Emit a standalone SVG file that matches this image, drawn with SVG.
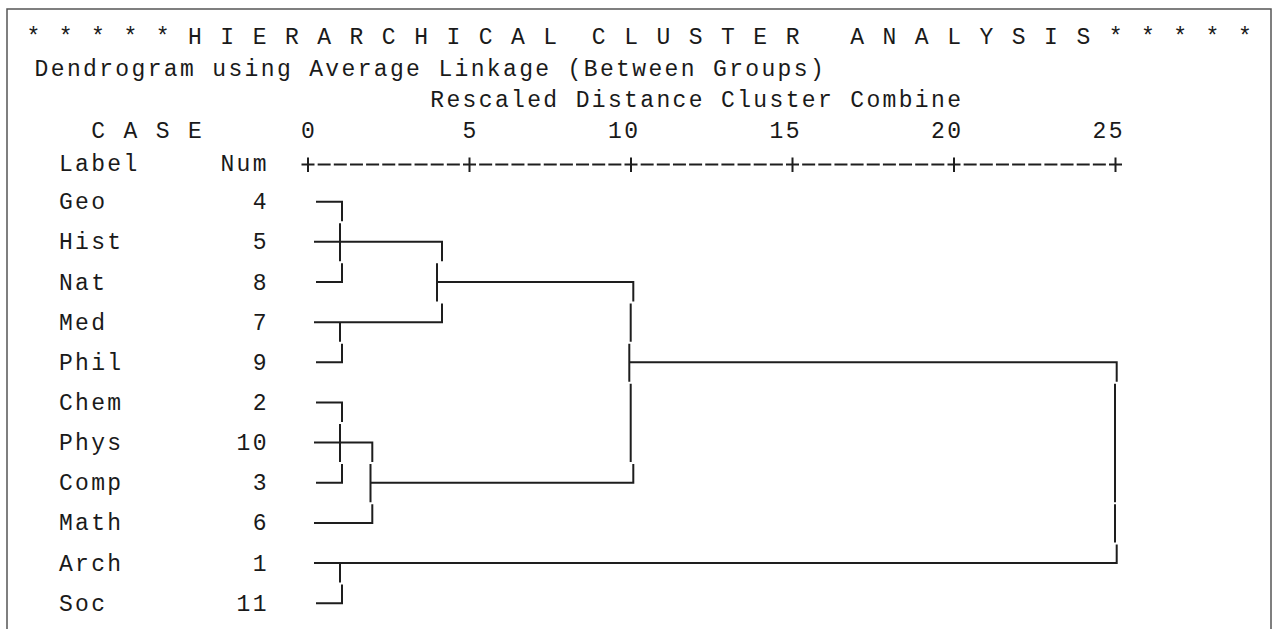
<svg xmlns="http://www.w3.org/2000/svg" width="1272" height="629" viewBox="0 0 1272 629">
<style>
text{font-family:"Liberation Mono","DejaVu Sans Mono",monospace;font-size:23px;fill:#1a1a1a;letter-spacing:2.35px;white-space:pre}
.ln{fill:none;stroke:#1e1e1e;stroke-width:2;stroke-linecap:butt;stroke-linejoin:miter}
.frame{fill:none;stroke:#555;stroke-width:1.5}
</style>
<rect width="1272" height="629" fill="#fff"/>
<path class="frame" d="M7,640 V9 H1271 V640"/>
<g id="header">
<text x="26.5" y="44" xml:space="preserve">* * * * * H I E R A R C H I C A L  C L U S T E R   A N A L Y S I S * * * * *</text>
<text x="34.6" y="76" xml:space="preserve">Dendrogram using Average Linkage (Between Groups)</text>
<text x="430.3" y="107" xml:space="preserve">Rescaled Distance Cluster Combine</text>
<text x="91.2" y="138" xml:space="preserve">C A S E</text>
<text x="301.1" y="138">0</text>
<text x="462.6" y="138">5</text>
<text x="608" y="138">10</text>
<text x="769.5" y="138">15</text>
<text x="931" y="138">20</text>
<text x="1092.5" y="138">25</text>
<text x="58.9" y="171">Label</text>
<text x="220.4" y="171">Num</text>
</g>
<g id="axis">
<path class="ln" d="M301.5,164.5 H1122.6" stroke-dasharray="13 3.15"/>
<path class="ln" d="M308,157.5 V172 M469.5,157.5 V172 M631,157.5 V172 M792.5,157.5 V172 M954,157.5 V172 M1115.5,157.5 V172"/>
</g>
<g id="case-geo"><text x="58.9" y="209.2">Geo</text><text x="252.7" y="209.2">4</text></g>
<g id="case-hist"><text x="58.9" y="249.4">Hist</text><text x="252.7" y="249.4">5</text></g>
<g id="case-nat"><text x="58.9" y="289.5">Nat</text><text x="252.7" y="289.5">8</text></g>
<g id="case-med"><text x="58.9" y="329.7">Med</text><text x="252.7" y="329.7">7</text></g>
<g id="case-phil"><text x="58.9" y="369.8">Phil</text><text x="252.7" y="369.8">9</text></g>
<g id="case-chem"><text x="58.9" y="410">Chem</text><text x="252.7" y="410">2</text></g>
<g id="case-phys"><text x="58.9" y="450.1">Phys</text><text x="236.5" y="450.1">10</text></g>
<g id="case-comp"><text x="58.9" y="490.3">Comp</text><text x="252.7" y="490.3">3</text></g>
<g id="case-math"><text x="58.9" y="530.4">Math</text><text x="252.7" y="530.4">6</text></g>
<g id="case-arch"><text x="58.9" y="570.6">Arch</text><text x="252.7" y="570.6">1</text></g>
<g id="case-soc"><text x="58.9" y="610.7">Soc</text><text x="236.5" y="610.7">11</text></g>
<g id="connectors">
<path class="ln" d="M316,201.7 H342 V221.2 M340,223.2 V261.35 M342,263.35 V282 H316"/>
<path class="ln" d="M314,241.85 H442 V261.35"/>
<path class="ln" d="M314,322.15 H442 V303.5 M340,322.15 V341.65 M342,343.65 V362.3 H316"/>
<path class="ln" d="M437,263.35 V301.5 M437,282 H633.3 V301.5"/>
<path class="ln" d="M316,402.45 H342 V421.95 M340,423.95 V462.1 M342,464.1 V482.75 H316"/>
<path class="ln" d="M314,442.6 H372.3 V462.1 M370.5,464.1 V502.25 M314,522.9 H372.3 V504.25"/>
<path class="ln" d="M630.7,303.5 V341.65 M629.3,343.65 V381.8 M630.7,383.8 V462.1 M633.3,464.1 V482.75 H370.5"/>
<path class="ln" d="M629.3,362.3 H1116.7 V381.8 M1115,383.8 V502.25 M1115,504.25 V542.4 M1116.7,544.4 V563.05 H314"/>
<path class="ln" d="M340,563.05 V582.55 M342,584.55 V603.2 H316"/>
</g>
</svg>
